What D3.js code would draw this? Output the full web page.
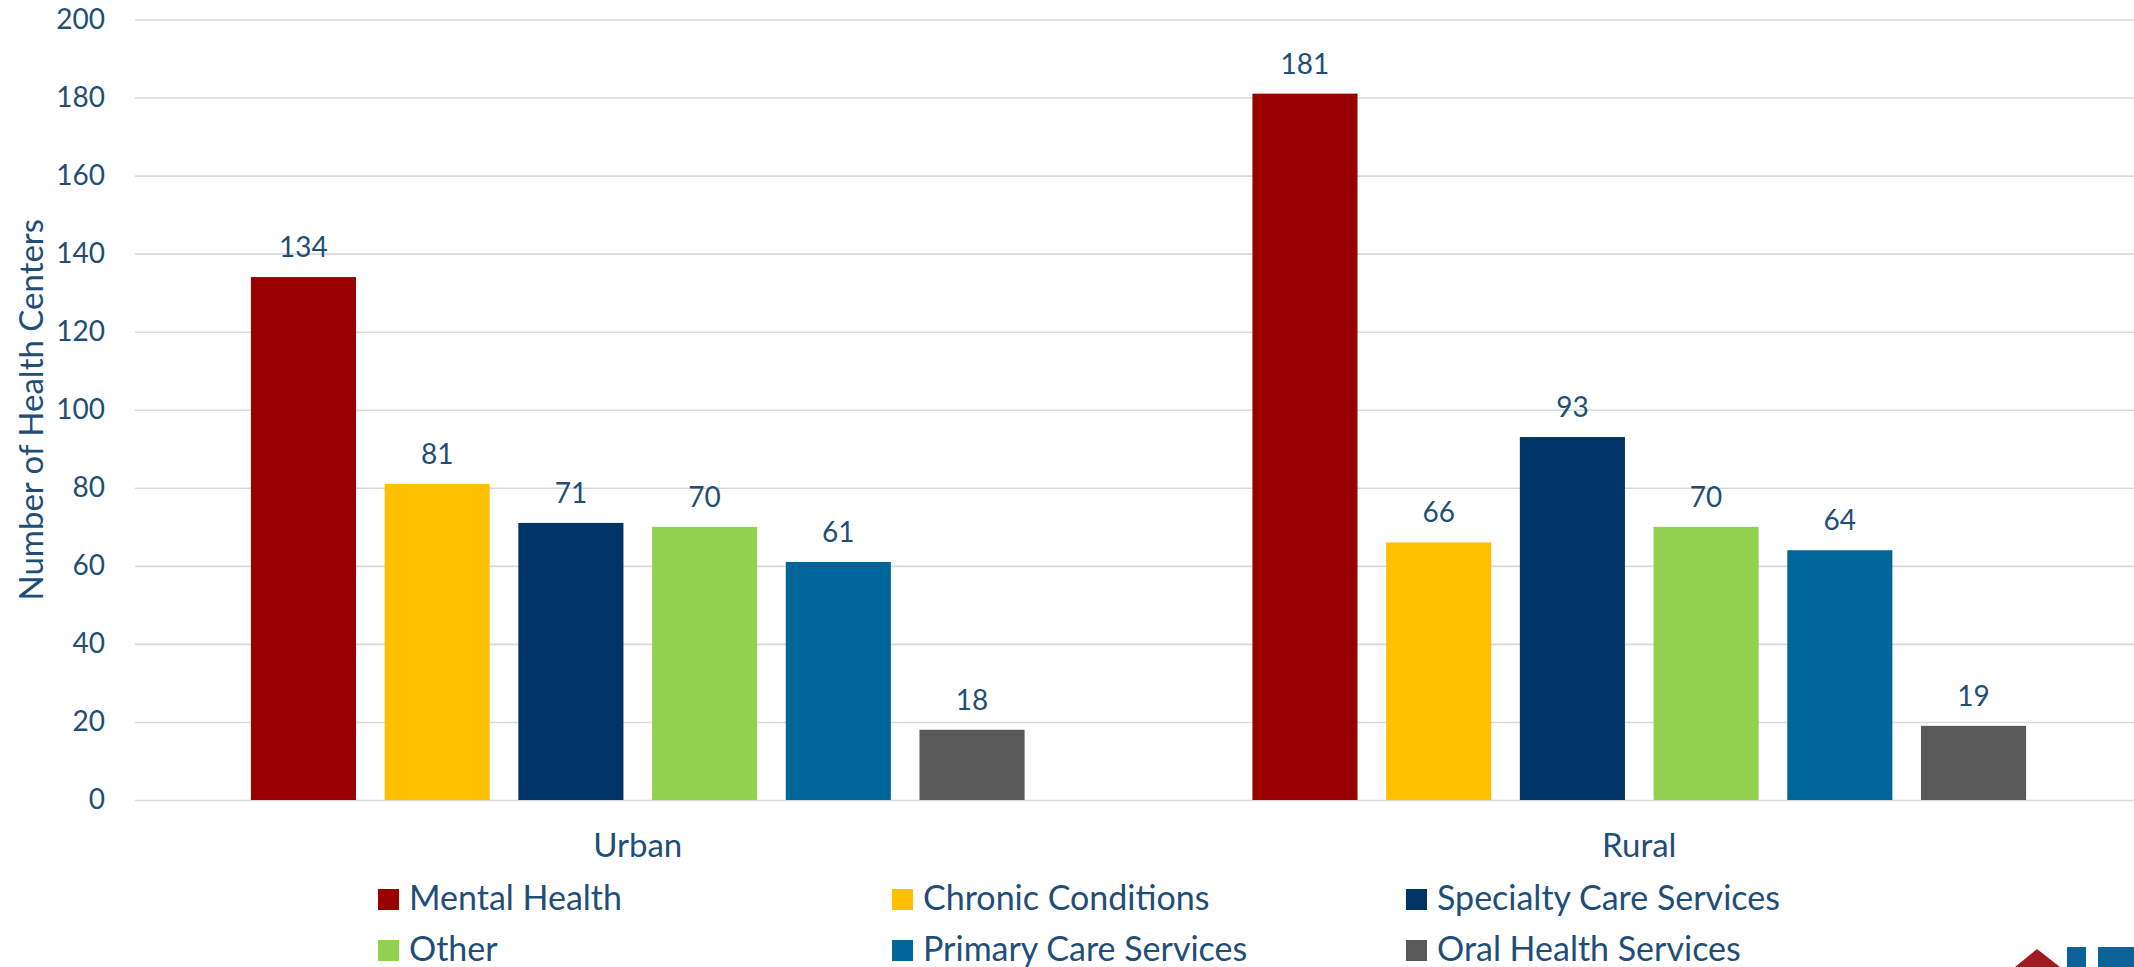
<!DOCTYPE html>
<html>
<head>
<meta charset="utf-8">
<script src="https://cdn.jsdelivr.net/npm/d3@7"></script>
<style>
  html, body { margin: 0; padding: 0; background: #fff; overflow: hidden; }
  text { font-family: Lato, "Open Sans", sans-serif; fill: #1F4E79; }
</style>
</head>
<body>
<script>
// data
var categories = ["Urban", "Rural"];
var seriesNames = ["Mental Health", "Chronic Conditions", "Specialty Care Services",
                   "Other", "Primary Care Services", "Oral Health Services"];
var urbanValues = [134, 81, 71, 70, 61, 18];
var ruralValues = [181, 66, 93, 70, 64, 19];
var seriesColors = ["#990000", "#FFC000", "#003366", "#92D050", "#006699", "#595959"];
var yTicks = [0, 20, 40, 60, 80, 100, 120, 140, 160, 180, 200];

var chartW = 2134, chartH = 967;
var plotLeft = 135, plotTop = 19.5, plotBottom = 800;

var canvas = d3.select("body").append("svg")
    .attr("width", chartW)
    .attr("height", chartH);

var rows = categories.map(function(c, i){
    var vals = i === 0 ? urbanValues : ruralValues;
    return { cat: c, values: seriesNames.map(function(s, j){ return { name: s, value: vals[j], color: seriesColors[j] }; }) };
});

var y = d3.scaleLinear().domain([0, 200]).range([plotBottom, plotTop]);
var x0 = d3.scaleBand().domain(categories).range([plotLeft + 2, chartW + 6]);
var x1 = d3.scaleBand().domain(seriesNames).range([0, x0.bandwidth()])
    .paddingInner(0.214).paddingOuter(0.852);

// gridlines + tick labels
var yAxis = canvas.append("g")
    .attr("transform", "translate(" + plotLeft + ",0)")
    .call(d3.axisLeft(y).tickValues(yTicks).tickSize(-(chartW - plotLeft)).tickPadding(30));
yAxis.select(".domain").remove();
yAxis.selectAll(".tick line").attr("stroke", "#D9D9D9").attr("stroke-width", 1.6);
yAxis.selectAll(".tick text")
    .style("font-family", "Lato, 'Open Sans', sans-serif")
    .style("font-size", "28px")
    .attr("fill", "#1F4E79");

// bars
var groups = canvas.selectAll("g.cat")
    .data(rows)
    .enter().append("g")
    .attr("class", "cat")
    .attr("transform", function(d){ return "translate(" + x0(d.cat) + ",0)"; });

groups.selectAll("rect")
    .data(function(d){ return d.values; })
    .enter().append("rect")
    .attr("x", function(d){ return x1(d.name); })
    .attr("y", function(d){ return y(d.value); })
    .attr("width", x1.bandwidth())
    .attr("height", function(d){ return y(0) - y(d.value); })
    .attr("fill", function(d){ return d.color; });

groups.selectAll("text.val")
    .data(function(d){ return d.values; })
    .enter().append("text")
    .attr("class", "val")
    .attr("x", function(d){ return x1(d.name) + x1.bandwidth() / 2; })
    .attr("y", function(d){ return y(d.value) - 20; })
    .attr("text-anchor", "middle")
    .style("font-size", "28px")
    .text(function(d){ return d.value; });

// category labels
canvas.selectAll("text.catlabel")
    .data(categories)
    .enter().append("text")
    .attr("class", "catlabel")
    .attr("x", function(d){ return x0(d) + x0.bandwidth() / 2; })
    .attr("y", 857)
    .attr("text-anchor", "middle")
    .style("font-size", "33px")
    .text(function(d){ return d; });

// y axis title
canvas.append("text")
    .attr("transform", "translate(43," + ((plotTop + plotBottom) / 2) + ") rotate(-90)")
    .attr("text-anchor", "middle")
    .style("font-size", "33px")
    .text("Number of Health Centers");

// legend
var legend = canvas.selectAll("g.legend")
    .data(seriesNames)
    .enter().append("g")
    .attr("class", "legend")
    .attr("transform", function(d, i){
        return "translate(" + (378 + (i % 3) * 514) + "," + (889 + Math.floor(i / 3) * 51) + ")";
    });
legend.append("rect")
    .attr("width", 21)
    .attr("height", 21)
    .attr("fill", function(d, i){ return seriesColors[i]; });
legend.append("text")
    .attr("x", 31)
    .attr("y", 21)
    .style("font-size", "34px")
    .text(function(d){ return d; });

// cut-off logo in the corner
var logo = canvas.append("g");
logo.append("path")
    .attr("d", "M2015,967 L2037,949 L2060,967 Z")
    .attr("fill", "#9E1B20");
logo.append("rect").attr("x", 2067).attr("y", 947).attr("width", 19).attr("height", 20).attr("fill", "#0B6399");
logo.append("rect").attr("x", 2098).attr("y", 947).attr("width", 36).attr("height", 20).attr("fill", "#0B6399");
</script>
</body>
</html>
